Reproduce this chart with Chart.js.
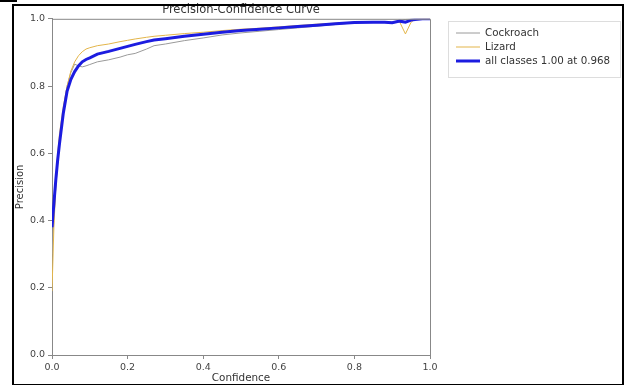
<!DOCTYPE html>
<html>
<head>
<meta charset="utf-8">
<script src="https://cdn.jsdelivr.net/npm/chart.js@4/dist/chart.umd.min.js"></script>
<style>
  body { margin: 0; background: #fff; }
  #wrap { position: relative; width: 624px; height: 385px; }
  #frame { position: absolute; left: 12px; top: 4px; width: 608px; height: 378px; border: 2px solid #000; pointer-events: none; }
  #mark { position: absolute; left: 0; top: 0; width: 17px; height: 2px; background: #000; }
</style>
</head>
<body>
<div id="wrap">
  <canvas id="pcChart" width="624" height="385"></canvas>
  <div id="frame"></div>
  <div id="mark"></div>
</div>
<script>
// confidence thresholds (x)
const conf = [0, 0.005, 0.01, 0.015, 0.02, 0.03, 0.04, 0.05, 0.06, 0.07,
  0.08, 0.09, 0.1, 0.12, 0.15, 0.18, 0.2, 0.22, 0.25, 0.27,
  0.3, 0.35, 0.4, 0.45, 0.5, 0.55, 0.6, 0.65, 0.7, 0.75,
  0.8, 0.85, 0.88, 0.9, 0.92, 0.935, 0.95, 0.96, 0.98, 1.0];

// precision per class
const cockroach = [0.30, 0.40, 0.50, 0.57, 0.63, 0.73, 0.80, 0.84, 0.865, 0.86,
  0.857, 0.86, 0.864, 0.872, 0.878, 0.886, 0.893, 0.897, 0.91, 0.92,
  0.925, 0.935, 0.943, 0.952, 0.958, 0.963, 0.968, 0.973, 0.978, 0.983,
  0.988, 0.99, 0.99, 0.99, 0.995, 0.998, 1, 1, 1, 1];

const lizard = [0.19, 0.38, 0.50, 0.60, 0.66, 0.74, 0.80, 0.845, 0.872, 0.89,
  0.902, 0.91, 0.914, 0.92, 0.925, 0.932, 0.936, 0.94, 0.945, 0.948,
  0.951, 0.956, 0.96, 0.965, 0.969, 0.972, 0.976, 0.98, 0.984, 0.987,
  0.99, 0.991, 0.99, 0.988, 0.99, 0.955, 0.99, 0.998, 1, 1];

const allClasses = [0.38, 0.45, 0.52, 0.58, 0.63, 0.72, 0.785, 0.82, 0.843, 0.86,
  0.872, 0.879, 0.884, 0.895, 0.903, 0.912, 0.918, 0.924, 0.932, 0.937,
  0.941, 0.948, 0.954, 0.96, 0.965, 0.969, 0.973, 0.977, 0.981, 0.985,
  0.989, 0.99, 0.99, 0.988, 0.993, 0.99, 0.996, 0.998, 1.0, 1.0];

const tickValues = [0, 0.2, 0.4, 0.6, 0.8, 1.0];
const legendLabels = ['Cockroach', 'Lizard', 'all classes 1.00 at 0.968'];

function pts(ys) {
  return conf.map((c, i) => ({ x: c, y: ys[i] }));
}

const FONT = 'DejaVu Sans';

// top + right spines and the legend box
const extras = {
  id: 'extras',
  afterDraw(chart) {
    const ctx = chart.ctx;
    const a = chart.chartArea;
    ctx.save();
    ctx.strokeStyle = '#888';
    ctx.lineWidth = 1;
    ctx.beginPath();
    ctx.moveTo(a.left, a.top + 0.5);
    ctx.lineTo(a.right + 0.5, a.top + 0.5);
    ctx.lineTo(a.right + 0.5, a.bottom);
    ctx.stroke();

    // legend
    const lx = 448, ly = 21, lw = 172, lh = 56;
    ctx.fillStyle = '#fff';
    ctx.fillRect(lx, ly, lw, lh);
    ctx.strokeStyle = '#ddd';
    ctx.strokeRect(lx + 0.5, ly + 0.5, lw, lh);
    const sets = chart.data.datasets;
    ctx.font = '10.3px ' + FONT;
    ctx.textBaseline = 'middle';
    sets.forEach((ds, i) => {
      const y = ly + 12 + i * 14;
      ctx.strokeStyle = ds.borderColor;
      ctx.lineWidth = ds.borderWidth;
      ctx.beginPath();
      ctx.moveTo(lx + 8, y);
      ctx.lineTo(lx + 32, y);
      ctx.stroke();
      ctx.fillStyle = '#333';
      ctx.fillText(legendLabels[i], lx + 37, y);
    });
    ctx.restore();
  }
};

new Chart(document.getElementById('pcChart'), {
  type: 'line',
  data: {
    datasets: [
      { label: legendLabels[0], data: pts(cockroach), borderColor: '#9a9a9a', borderWidth: 1, order: 2 },
      { label: legendLabels[1], data: pts(lizard), borderColor: '#e3b54a', borderWidth: 1, order: 1 },
      { label: legendLabels[2], data: pts(allClasses), borderColor: '#1c1ce0', borderWidth: 3, order: 0 }
    ]
  },
  options: {
    responsive: false,
    animation: false,
    elements: { point: { radius: 0 }, line: { tension: 0 } },
    layout: { padding: { left: 14, right: 194, top: 0, bottom: 0 } },
    plugins: {
      legend: { display: false },
      tooltip: { enabled: false },
      title: {
        display: true,
        text: 'Precision-Confidence Curve',
        fullSize: false,
        color: '#333',
        font: { family: FONT, size: 11.5, weight: 'normal' },
        padding: { top: 3, bottom: 2 }
      }
    },
    scales: {
      x: {
        type: 'linear',
        min: 0, max: 1,
        afterBuildTicks: s => { s.ticks = tickValues.map(v => ({ value: v })); },
        afterFit: s => { s.height = 30; },
        grid: { drawOnChartArea: false, drawTicks: true, tickLength: 4, color: '#888' },
        border: { color: '#888' },
        ticks: { color: '#444', padding: 3, maxRotation: 0, font: { family: FONT, size: 9.5 }, callback: v => v.toFixed(1) },
        title: { display: true, text: 'Confidence', color: '#333', font: { family: FONT, size: 10.4 }, padding: { top: 1, bottom: 0 } }
      },
      y: {
        type: 'linear',
        min: 0, max: 1,
        afterBuildTicks: s => { s.ticks = tickValues.map(v => ({ value: v })); },
        afterFit: s => { s.width = 38; },
        grid: { drawOnChartArea: false, drawTicks: true, tickLength: 4, color: '#888' },
        border: { color: '#888' },
        ticks: { color: '#444', padding: 3, font: { family: FONT, size: 9.5 }, callback: v => v.toFixed(1) },
        title: { display: true, text: 'Precision', color: '#333', font: { family: FONT, size: 10 }, padding: { top: 0, bottom: 0 } }
      }
    }
  },
  plugins: [extras]
});
</script>
</body>
</html>
